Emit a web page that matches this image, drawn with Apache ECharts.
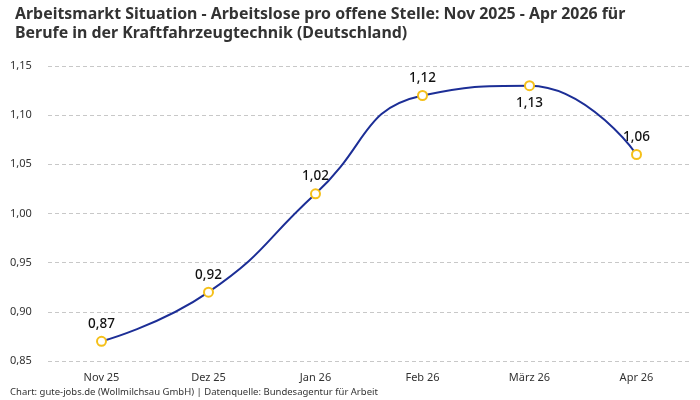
<!DOCTYPE html>
<html><head><meta charset="utf-8">
<script src="https://cdn.jsdelivr.net/npm/echarts@6/dist/echarts.min.js"></script>
<style>html,body{margin:0;padding:0;background:#fff}#c{width:700px;height:400px}</style>
</head><body><div id="c"></div>
<script>
const categories = ['Nov 25','Dez 25','Jan 26','Feb 26','März 26','Apr 26'];
const values = [0.87, 0.92, 1.02, 1.12, 1.13, 1.06];
const labelBelow = [false, false, false, false, true, false];
const yTicks = [0.85, 0.90, 0.95, 1.00, 1.05, 1.10, 1.15];

const fmt = v => v.toFixed(2).replace('.', ',');
const chart = echarts.init(document.getElementById('c'));
const font = '"Noto Sans", Roboto, sans-serif';
chart.setOption({
  animation: false,
  textStyle: { fontFamily: font },
  title: {
    text: 'Arbeitsmarkt Situation - Arbeitslose pro offene Stelle: Nov 2025 - Apr 2026 für\nBerufe in der Kraftfahrzeugtechnik (Deutschland)',
    left: 10, top: 0,
    textStyle: { fontSize: 15.9, fontWeight: 'bold', color: '#333', lineHeight: 19, fontFamily: font }
  },
  graphic: [{
    type: 'text', left: 10, top: 387,
    style: { text: 'Chart: gute-jobs.de (Wollmilchsau GmbH) | Datenquelle: Bundesagentur für Arbeit', fontSize: 9.5, fill: '#333', fontFamily: font }
  }],
  grid: { left: 48, right: 10, top: 66, bottom: 39, containLabel: false },
  xAxis: {
    type: 'category', data: categories, boundaryGap: true,
    axisLine: { show: false }, axisTick: { show: false },
    axisLabel: { color: '#333', fontSize: 11, margin: 11 }
  },
  yAxis: {
    type: 'value', min: yTicks[0], max: yTicks[yTicks.length - 1], interval: 0.05,
    axisLine: { show: false }, axisTick: { show: false },
    axisLabel: { color: '#333', fontSize: 11, align: 'left', margin: 38, formatter: v => fmt(v) },
    splitLine: { lineStyle: { type: [4, 3], color: '#c8c8c8' } }
  },
  series: [{
    type: 'line', smooth: 0.5,
    data: values.map((v, i) => ({
      value: v,
      label: { position: labelBelow[i] ? 'bottom' : 'top' }
    })),
    symbol: 'circle', symbolSize: 9,
    itemStyle: { color: '#fff', borderColor: '#f5c01a', borderWidth: 2 },
    lineStyle: { color: '#1c2e96', width: 2 },
    label: { show: true, fontSize: 13.5, fontWeight: 500, color: '#111', formatter: p => fmt(p.value), distance: 5 }
  }]
});
</script></body></html>
